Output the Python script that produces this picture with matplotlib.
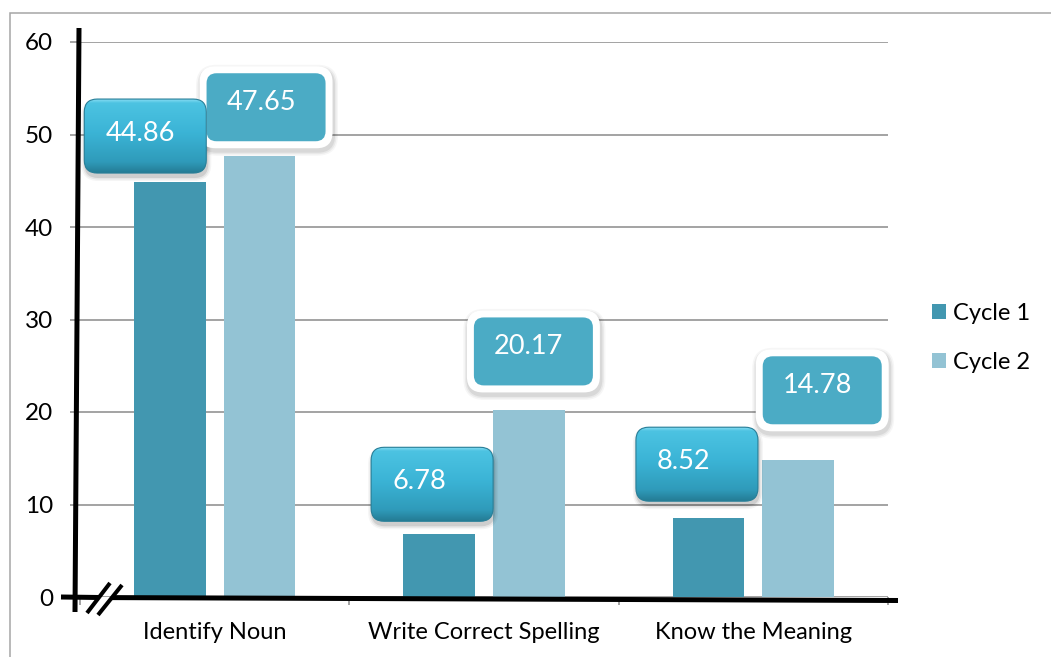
import matplotlib
matplotlib.use('Agg')
import matplotlib.pyplot as plt
import numpy as np
from matplotlib.patches import FancyBboxPatch, Rectangle
from matplotlib.lines import Line2D
from matplotlib.colors import LinearSegmentedColormap

# ---------------- data ----------------
categories = ["Identify Noun", "Write Correct Spelling", "Know the Meaning"]
series_names = ["Cycle 1", "Cycle 2"]
cycle1 = [44.86, 6.78, 8.52]
cycle2 = [47.65, 20.17, 14.78]
y_ticks = [0, 10, 20, 30, 40, 50, 60]

# ---------------- layout (pixel offsets of label boxes from bar tops) ----------------
c1_box_off = [(-24.5, -46), (-7, -50), (-11.5, -54)]
c2_box_off = [(6.5, -49), (4.5, -59), (24, -70)]

plt.rcParams['font.family'] = ['Lato', 'DejaVu Sans']
W, H = 1051, 657
fig = plt.figure(figsize=(W / 100, H / 100), dpi=100)
fig.patch.set_facecolor('white')
L, R, T, B = 80, 888, 42, 597
ax = fig.add_axes([L / W, 1 - B / H, (R - L) / W, (B - T) / H])

x = np.arange(len(categories))
bw = 72 / 270
off = 45 / 270
C1 = '#4297b0'
C2 = '#93c3d4'
b1 = ax.bar(x - off, cycle1, bw, color=C1, label=series_names[0], zorder=2)
b2 = ax.bar(x + off, cycle2, bw, color=C2, label=series_names[1], zorder=2)
ax.set_xlim(-0.5, len(categories) - 0.5)
ax.set_ylim(0, 60)
ax.set_yticks(y_ticks)
ax.yaxis.grid(True, color='#8a8a8a', lw=1.1)
ax.set_axisbelow(True)
for s in ax.spines.values():
    s.set_visible(False)
ax.tick_params(axis='y', length=7.2, width=1.1, color='#8a8a8a', pad=12, labelsize=17.5)
ax.set_xticks(np.arange(len(categories) + 1) - 0.5)
ax.set_xticklabels([])
ax.set_xticks(x, minor=True)
ax.set_xticklabels(categories, minor=True, fontsize=17)
ax.tick_params(axis='x', which='major', length=6, width=1.1, color='#8a8a8a')
ax.tick_params(axis='x', which='minor', length=0, pad=18)


def ap(px, py):
    """pixel (image coords) -> axes fraction"""
    return (px - L) / (R - L), (B - py) / (B - T)


def seg(p, q, lw, color='black'):
    (x0, y0), (x1, y1) = ap(*p), ap(*q)
    ax.add_line(Line2D([x0, x1], [y0, y1], transform=ax.transAxes, color=color,
                       lw=lw, clip_on=False, solid_capstyle='butt', zorder=4))


# hand-drawn looking axes
seg((79, 28), (75, 612), 3.6)
seg((61, 597), (99, 597.5), 3.6)
seg((112, 597.6), (898, 600.5), 3.6)
seg((87, 613), (110, 583), 2.9)
seg((98, 615), (122, 585), 2.9)

# outer frame
fig.add_artist(Rectangle((9.5 / W, -0.1), 2, (H - 12.5) / H + 0.1, fill=False,
                         edgecolor='#a6a6a6', lw=1.1, transform=fig.transFigure))

ax.legend(handles=[b1, b2], loc='center left', bbox_to_anchor=(932 / W, 1 - 338 / H),
          bbox_transform=fig.transFigure, frameon=False, fontsize=17,
          handlelength=0.6, handleheight=0.6, handletextpad=0.3,
          labelspacing=1.17, borderpad=0, borderaxespad=0)

# overlay for label boxes in pixel coordinates
ov = fig.add_axes([0, 0, 1, 1], zorder=5)
ov.patch.set_visible(False)
ov.axis('off')


def to_px(xd, yd):
    dx, dy = ax.transData.transform((xd, yd))
    return dx, H - dy


gcmap = LinearSegmentedColormap.from_list('g', [(0, '#86dcf3'), (0.05, '#4cc3e2'),
                                                 (0.45, '#3bb4d6'), (0.85, '#2f9bba'),
                                                 (1.0, '#247c95')])
grad = np.linspace(0, 1, 200).reshape(-1, 1)


def glossy_box(cx, cy, w, h, text):
    x0, y0 = cx - w / 2, cy - h / 2
    r = 13
    for g, a in [(8, 0.04), (5, 0.06), (2, 0.10)]:
        ov.add_patch(FancyBboxPatch((x0 - g / 2 + 1, y0 - g / 2 + 4), w + g, h + g,
                                    boxstyle=f"round,pad=0,rounding_size={r + g / 2}",
                                    fc='black', ec='none', alpha=a, zorder=2))
    base = FancyBboxPatch((x0, y0), w, h, boxstyle=f"round,pad=0,rounding_size={r}",
                          fc='#33a3c3', ec='none', zorder=3)
    ov.add_patch(base)
    im = ov.imshow(grad, cmap=gcmap, extent=(x0, x0 + w, y0 + h, y0), origin='upper',
                   aspect='auto', zorder=3.1, interpolation='bilinear')
    im.set_clip_path(base)
    ov.add_patch(FancyBboxPatch((x0, y0), w, h, boxstyle=f"round,pad=0,rounding_size={r}",
                                fc='none', ec='#2a7f98', lw=0.8, zorder=3.2))
    ov.text(x0 + 21, cy + 5, text, color='white', fontsize=19.5, ha='left',
            va='baseline', zorder=4)


def flat_box(cx, cy, w, h, text):
    bw_ = 7
    x0, y0 = cx - w / 2, cy - h / 2
    for g, a in [(9, 0.035), (6, 0.05), (3, 0.07)]:
        ov.add_patch(FancyBboxPatch((x0 - bw_ - g / 2 + 1, y0 - bw_ - g / 2 + 3),
                                    w + 2 * bw_ + g, h + 2 * bw_ + g,
                                    boxstyle=f"round,pad=0,rounding_size={16 + g / 2}",
                                    fc='black', ec='none', alpha=a, zorder=2))
    ov.add_patch(FancyBboxPatch((x0 - bw_, y0 - bw_), w + 2 * bw_, h + 2 * bw_,
                                boxstyle="round,pad=0,rounding_size=16",
                                fc='white', ec='none', zorder=3))
    ov.add_patch(FancyBboxPatch((x0, y0), w, h, boxstyle="round,pad=0,rounding_size=10",
                                fc='#4babc5', ec='none', zorder=3.1))
    ov.text(x0 + 20, cy + 3, text, color='white', fontsize=19.5, ha='left',
            va='baseline', zorder=4)


for rect, v, (dx, dy) in zip(b1, cycle1, c1_box_off):
    px, py = to_px(rect.get_x() + rect.get_width() / 2, rect.get_height())
    glossy_box(px + dx, py + dy, 122, 74, f"{v:.2f}")
for rect, v, (dx, dy) in zip(b2, cycle2, c2_box_off):
    px, py = to_px(rect.get_x() + rect.get_width() / 2, rect.get_height())
    flat_box(px + dx, py + dy, 119, 68, f"{v:.2f}")

ov.set_xlim(0, W)
ov.set_ylim(H, 0)

fig.savefig('out.png', dpi=100, facecolor='white')
